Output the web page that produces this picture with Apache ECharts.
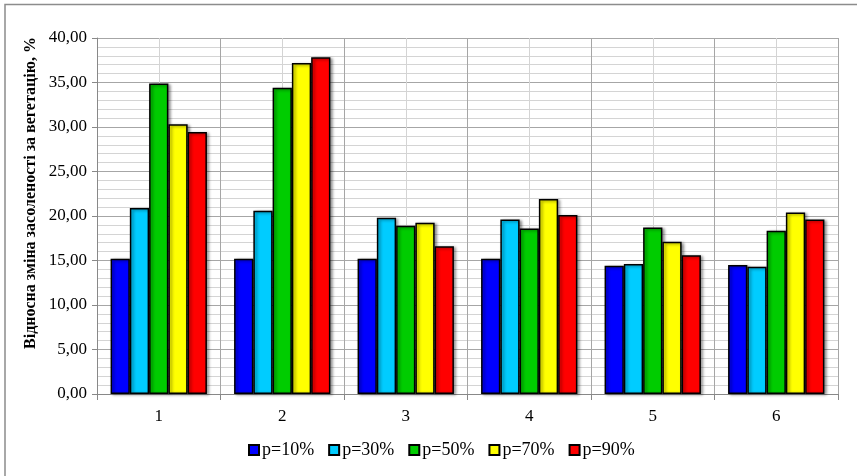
<!DOCTYPE html>
<html><head><meta charset="utf-8">
<script src="https://cdn.jsdelivr.net/npm/echarts@6/dist/echarts.min.js"></script>
<style>html,body{margin:0;padding:0;background:#fff}#c{width:857px;height:476px}</style>
</head><body><div id="c"></div>
<script>
const categories = ['1','2','3','4','5','6'];
const seriesNames = ['p=10%','p=30%','p=50%','p=70%','p=90%'];
const p10 = [15.2, 15.2, 15.2, 15.2, 14.4, 14.5];
const p30 = [20.9, 20.6, 19.8, 19.6, 14.6, 14.3];
const p50 = [34.9, 34.4, 18.9, 18.6, 18.7, 18.35];
const p70 = [30.3, 37.2, 19.25, 21.9, 17.1, 20.4];
const p90 = [29.45, 37.85, 16.6, 20.1, 15.6, 19.6];
const colors = ['#0000FF','#00CCFF','#00CC00','#FFFF00','#FF0000'];
const yTitle = 'Відносна зміна засоленості за вегетацію, %';

const font = 'Liberation Serif, Times New Roman, serif';
const chart = echarts.init(document.getElementById('c'));
const allData = [p10,p30,p50,p70,p90];
chart.setOption({
  animation:false,
  backgroundColor:'#fff',
  graphic:[
    {type:'rect', shape:{x:5,y:4.5,width:900,height:600}, style:{fill:'none',stroke:'#8c8c8c',lineWidth:1.5}, z:-10},
    {type:'text', x:31, y:193, rotation:Math.PI/2, style:{text:yTitle, font:'bold 16px '+font, fill:'#000', textAlign:'center', textVerticalAlign:'middle'}}
  ],
  grid:{left:97,right:19,top:38,bottom:82},
  legend:{bottom:12,left:243,itemWidth:10,itemHeight:10,itemGap:14,icon:'rect',
    textStyle:{fontFamily:font,fontSize:18,color:'#000',padding:[0,0,0,-2]},data:seriesNames},
  xAxis:[
    {type:'category',data:categories,
     axisLine:{lineStyle:{color:'#888',width:1}},
     axisTick:{show:true,length:6,lineStyle:{color:'#888'}},
     axisLabel:{fontFamily:font,fontSize:17,color:'#000',margin:14},
     splitLine:{show:false}},
    {type:'value',min:0,max:6,interval:1,position:'top',
     axisLine:{show:false},axisTick:{show:false},axisLabel:{show:false},
     splitLine:{show:true,lineStyle:{color:'#a6a6a6',width:1}},
     minorTick:{show:false,splitNumber:2},
     minorSplitLine:{show:true,lineStyle:{color:'#d4d4d4',width:1}}}
  ],
  yAxis:{type:'value',min:0,max:40,interval:5,
    axisLine:{show:true,lineStyle:{color:'#888'}},
    axisTick:{show:true,length:5,lineStyle:{color:'#888'}},
    axisLabel:{fontFamily:font,fontSize:17,color:'#000',margin:10,formatter:v=>v.toFixed(2).replace('.',',')},
    splitLine:{show:true,lineStyle:{color:'#a6a6a6',width:1}},
    minorTick:{show:false,splitNumber:5},
    minorSplitLine:{show:true,lineStyle:{color:'#d4d4d4',width:1}}},
  series: seriesNames.map((n,i)=>({
    name:n,type:'bar',xAxisIndex:0,data:allData[i],
    barGap:'0%',barCategoryGap:'22%',
    itemStyle:{color:colors[i],borderColor:'#000',borderWidth:1.5,
      shadowColor:'rgba(0,0,0,0.45)',shadowBlur:3,shadowOffsetX:2,shadowOffsetY:1}
  }))
});
</script></body></html>
